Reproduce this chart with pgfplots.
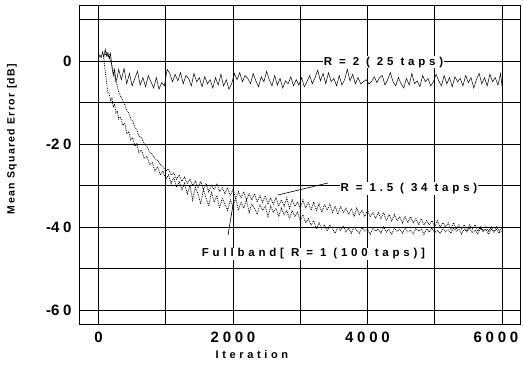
\documentclass[border=0pt]{standalone}
\usepackage{fontspec}
\setmainfont{Liberation Sans}
\newfontfamily\lsfont{Liberation Sans}[LetterSpace=33]
\newfontfamily\tkfont{Liberation Sans}[LetterSpace=25]
\newfontfamily\ylfont{Liberation Sans}[LetterSpace=13]
\newcommand{\mn}{{\normalfont\bfseries -}}
\usepackage{pgfplots}
\pgfplotsset{compat=1.18}
\begin{document}
\begin{tikzpicture}
\path[use as bounding box] (-79pt,-43pt) rectangle (444pt,324pt);
\begin{axis}[
  at={(0,0)}, anchor=south west,
  scale only axis, width=441pt, height=319pt,
  xmin=-290, xmax=6268, ymin=-63.4, ymax=13.5,
  xtick={0,2000,4000,6000}, xticklabels={0,2000,4000,\hbox{6000\hspace{12pt}}},
  minor xtick={1000,3000,5000},
  ytick={-60,-40,-20,0}, yticklabels={\mn60,\mn40,\mn20,0},
  minor ytick={-50,-30,-10,10},
  grid=both,
  major grid style={black, line width=0.7pt},
  minor grid style={black, line width=0.7pt},
  axis line style={black, line width=0.8pt},
  major tick length=0pt, minor tick length=0pt,
  ticklabel style={font=\tkfont\bfseries\fontsize{15}{17}\selectfont},
  xticklabel style={yshift=-4pt},
  yticklabel style={xshift=-4pt},
  xlabel={Iteration},
  ylabel={Mean Squared Error [dB]},
  xlabel style={font=\lsfont\bfseries\fontsize{11}{13}\selectfont, at={(axis description cs:0.392,-0.097)}, anchor=center},
  ylabel style={font=\ylfont\bfseries\fontsize{10.5}{12}\selectfont, at={(axis description cs:-0.152,0.58)}, anchor=center},
  clip=true,
]
% R = 2 (25 taps)
\addplot[black, line width=0.5pt] coordinates {
(0,0.5)(20,1.5)(40,0.8)(60,2.2)(80,1.0)(100,2.8)(120,1.2)(140,2.0)(160,0.5)(180,1.8)
(200,-1.5)(220,-3.5)(240,-2.0)(260,-5.0)(280,-3.8)
(300,-2.0)(340,-4.5)(380,-1.8)(420,-5.5)(460,-3.0)(500,-6.0)(540,-4.2)(580,-2.5)(620,-5.8)(660,-4.0)
(700,-6.2)(740,-3.5)(780,-5.0)(820,-6.5)(860,-4.0)(900,-6.8)(940,-5.2)(980,-6.0)(1020,-2.0)(1060,-3.0)
(1100,-5.0)(1140,-3.2)(1180,-4.8)(1220,-2.8)(1260,-5.5)(1300,-3.5)(1340,-4.2)(1380,-6.0)(1420,-3.0)(1460,-5.0)
(1500,-4.0)(1540,-6.2)(1580,-3.8)(1620,-5.5)(1660,-4.5)(1700,-6.5)(1740,-4.0)(1780,-5.8)(1820,-3.2)(1860,-6.0)
(1900,-4.5)(1940,-6.8)(1980,-5.5)(2020,-3.0)(2060,-4.5)(2100,-2.8)(2140,-5.0)(2180,-3.5)(2220,-4.2)(2260,-5.5)
(2300,-3.0)(2340,-4.8)(2380,-6.2)(2420,-3.8)(2460,-5.0)(2500,-2.5)(2540,-4.5)(2580,-6.0)(2620,-3.5)(2660,-5.8)
(2700,-4.2)(2740,-6.5)(2780,-4.8)(2820,-5.5)(2860,-3.8)(2900,-6.0)(2940,-4.5)(2980,-5.8)(3020,-4.0)(3060,-6.2)
(3100,-5.0)(3140,-3.5)(3180,-5.5)(3220,-4.0)(3260,-2.2)(3300,-4.8)(3340,-3.0)(3380,-5.5)(3420,-2.8)(3460,-5.0)
(3500,-4.2)(3540,-6.0)(3580,-3.5)(3620,-5.8)(3660,-4.5)(3700,-2.0)(3740,-4.8)(3780,-3.2)(3820,-5.5)(3860,-4.0)
(3900,-5.5)(3940,-5.0)(3980,-4.5)(4020,-5.5)(4060,-5.0)(4100,-3.8)(4140,-5.2)(4180,-4.0)(4220,-3.5)(4260,-5.8)
(4300,-4.5)(4340,-2.8)(4380,-5.0)(4420,-6.0)(4460,-4.0)(4500,-5.5)(4540,-6.5)(4580,-4.2)(4620,-5.8)(4660,-3.0)
(4700,-5.5)(4740,-4.8)(4780,-6.2)(4820,-3.5)(4860,-5.0)(4900,-4.2)(4940,-6.0)(4980,-5.0)(5020,-3.2)(5060,-4.8)
(5100,-6.0)(5140,-3.5)(5180,-5.5)(5220,-4.0)(5260,-6.2)(5300,-3.8)(5340,-5.0)(5380,-4.2)(5420,-6.0)(5460,-3.5)
(5500,-5.2)(5540,-4.0)(5580,-6.5)(5620,-4.5)(5660,-3.0)(5700,-5.5)(5740,-4.0)(5780,-6.0)(5820,-3.2)(5860,-5.0)
(5900,-4.0)(5940,-5.8)(5980,-3.0)(6000,-6.0)(6010,-3.5)
};
% Fullband
\addplot[black, densely dotted, line width=0.8pt] coordinates {
(60,2.0)(80,0.5)(100,-2.5)(120,-5.0)(140,-7.5)(160,-8.0)(180,-9.5)(200,-9.0)(220,-11.0)(240,-10.5)
(260,-12.5)(280,-12.0)(300,-14.0)(330,-13.5)(360,-15.5)(390,-15.0)(420,-17.5)(450,-17.0)(480,-19.0)(510,-18.5)
(540,-20.5)(570,-20.0)(600,-22.0)(640,-21.5)(680,-23.5)(720,-23.0)(760,-25.0)(800,-24.5)(840,-26.5)(880,-25.5)
(920,-27.5)(960,-26.5)(1000,-28.5)(1040,-27.5)(1080,-29.5)(1120,-28.0)(1160,-30.5)(1200,-29.0)(1240,-31.0)(1280,-29.5)
(1320,-32.0)(1360,-30.0)(1400,-33.5)(1440,-30.5)(1480,-32.0)(1520,-34.5)(1560,-31.0)(1600,-33.0)(1640,-35.0)(1680,-31.5)
(1720,-34.0)(1760,-32.5)(1800,-35.5)(1840,-33.0)(1880,-34.5)(1920,-36.0)(1960,-33.5)(2000,-35.0)(2040,-33.0)(2080,-36.0)
(2120,-34.0)(2160,-35.5)(2200,-33.5)(2240,-36.5)(2280,-34.5)(2320,-35.5)(2360,-37.0)(2400,-34.5)(2440,-36.0)(2480,-35.0)
(2520,-37.5)(2560,-35.0)(2600,-36.5)(2640,-35.5)(2680,-37.5)(2720,-35.5)(2760,-37.0)(2800,-36.0)(2840,-38.0)(2880,-36.0)
(2920,-37.5)(2960,-36.5)(3000,-38.5)(3040,-37.0)(3080,-39.0)(3120,-38.0)(3160,-39.5)(3200,-38.5)(3240,-40.5)(3280,-39.0)
(3320,-40.5)(3360,-39.5)(3400,-41.0)(3440,-39.5)(3480,-40.5)(3520,-41.5)(3560,-40.0)(3600,-40.8)(3640,-39.8)(3680,-41.2)
(3720,-40.3)(3760,-41.5)(3800,-40.0)(3840,-40.8)(3880,-41.5)(3920,-40.2)(3960,-41.0)(4000,-40.5)(4040,-41.8)(4080,-40.2)
(4120,-41.0)(4160,-40.5)(4200,-41.5)(4240,-40.0)(4280,-41.2)(4320,-40.6)(4360,-41.8)(4400,-40.3)(4440,-41.0)(4480,-40.5)
(4520,-41.5)(4560,-40.2)(4600,-41.2)(4640,-40.8)(4680,-41.6)(4720,-40.4)(4760,-41.0)(4800,-40.6)(4840,-41.8)(4880,-40.5)
(4920,-41.2)(4960,-40.3)(5000,-41.4)(5040,-40.8)(5080,-41.6)(5120,-40.4)(5160,-41.2)(5200,-40.7)(5240,-41.5)(5280,-40.2)
(5320,-41.0)(5360,-40.6)(5400,-41.7)(5440,-40.5)(5480,-41.2)(5520,-40.3)(5560,-41.4)(5600,-40.8)(5640,-41.6)(5680,-40.4)
(5720,-41.1)(5760,-40.6)(5800,-41.8)(5840,-40.5)(5880,-41.2)(5920,-40.6)(5960,-41.5)(6000,-40.8)
};
% R = 1.5
\addplot[black, densely dotted, line width=0.8pt] coordinates {
(100,1.5)(120,2.0)(140,1.0)(160,1.5)(180,0.0)(200,-1.0)(220,-2.5)(240,-3.5)(260,-5.0)(280,-6.0)
(300,-7.5)(330,-8.5)(360,-9.5)(390,-10.5)(420,-12.0)(450,-12.5)(480,-14.0)(510,-14.5)(540,-16.0)(570,-16.5)
(600,-18.0)(640,-18.5)(680,-20.0)(720,-20.5)(760,-22.0)(800,-22.5)(840,-23.5)(880,-24.0)(920,-25.0)(960,-25.5)
(1000,-26.5)(1040,-26.0)(1080,-27.5)(1120,-27.0)(1160,-28.5)(1200,-27.5)(1240,-29.0)(1280,-28.0)(1320,-29.5)(1360,-28.5)
(1400,-30.0)(1440,-29.0)(1480,-30.5)(1520,-29.0)(1560,-31.0)(1600,-29.5)(1640,-31.5)(1680,-30.0)(1720,-31.0)(1760,-29.5)
(1800,-31.5)(1840,-30.5)(1880,-32.0)(1920,-30.5)(1960,-32.5)(2000,-31.0)(2040,-33.0)(2080,-31.5)(2120,-33.0)(2160,-31.5)
(2200,-33.5)(2240,-32.0)(2280,-33.5)(2320,-32.0)(2360,-34.0)(2400,-32.5)(2440,-34.0)(2480,-32.5)(2520,-34.5)(2560,-33.0)
(2600,-34.5)(2640,-33.0)(2680,-35.0)(2720,-33.5)(2760,-35.0)(2800,-33.0)(2840,-35.5)(2880,-33.5)(2920,-35.0)(2960,-34.0)
(3000,-35.5)(3040,-33.5)(3080,-35.5)(3120,-34.0)(3160,-36.0)(3200,-34.0)(3240,-36.0)(3280,-34.5)(3320,-36.5)(3360,-34.5)
(3400,-36.0)(3440,-34.5)(3480,-36.5)(3520,-35.0)(3560,-37.0)(3600,-35.0)(3640,-36.5)(3680,-35.5)(3720,-37.0)(3760,-35.5)
(3800,-37.5)(3840,-35.5)(3880,-37.0)(3920,-36.0)(3960,-37.5)(4000,-36.0)(4040,-37.5)(4080,-36.5)(4120,-38.0)(4160,-36.5)
(4200,-38.0)(4240,-36.5)(4280,-38.5)(4320,-37.0)(4360,-38.5)(4400,-37.0)(4440,-38.5)(4480,-37.5)(4520,-39.0)(4560,-37.5)
(4600,-39.0)(4640,-37.5)(4680,-39.0)(4720,-38.0)(4760,-39.5)(4800,-38.0)(4840,-39.5)(4880,-38.5)(4920,-39.5)(4960,-38.5)
(5000,-40.0)(5040,-38.5)(5080,-40.0)(5120,-39.0)(5160,-40.0)(5200,-39.0)(5240,-40.5)(5280,-39.0)(5320,-40.5)(5360,-39.5)
(5400,-40.5)(5440,-39.5)(5480,-41.0)(5520,-39.5)(5560,-40.5)(5600,-39.5)(5640,-41.0)(5680,-40.0)(5720,-41.0)(5760,-39.8)
(5800,-41.0)(5840,-40.0)(5880,-41.2)(5920,-40.0)(5960,-41.0)(6000,-40.2)
};
% annotations
\draw[black, line width=0.6pt] (axis cs:3413,-29.4) -- (axis cs:2669,-32.3);
\draw[black, line width=0.6pt] (axis cs:1926,-42) -- (axis cs:2000,-34.7);
\node[fill=white, inner sep=1pt, font=\lsfont\bfseries\fontsize{11.5}{13}\selectfont] at (axis cs:4238,-0.25) {R = 2 ( 25 taps)};
\node[fill=white, inner sep=1pt, font=\lsfont\bfseries\fontsize{11.5}{13}\selectfont] at (axis cs:4617,-30.8) {R = 1.5 ( 34 taps)};
\node[fill=white, inner sep=1pt, font=\lsfont\bfseries\fontsize{11.5}{13}\selectfont] at (axis cs:3197,-46.5) {Fullband[ R = 1 (100 taps)]};
\end{axis}
\end{tikzpicture}
\end{document}
